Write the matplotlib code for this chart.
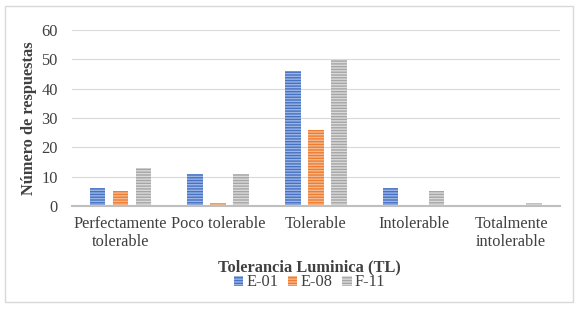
import matplotlib.pyplot as plt
from matplotlib.patches import Rectangle
import numpy as np

plt.rcParams['font.family'] = ['Liberation Serif', 'DejaVu Serif']
plt.rcParams['hatch.linewidth'] = 1.0

categories = ["Perfectamente\ntolerable", "Poco tolerable", "Tolerable",
              "Intolerable", "Totalmente\nintolerable"]
series = ["E-01", "E-08", "F-11"]
e01 = [6, 11, 46, 6, 0]
e08 = [5, 1, 26, 0, 0]
f11 = [13, 11, 50, 5, 1]

colors = ["#4472C4", "#ED7D31", "#A5A5A5"]
stripes = ["#9DB5E3", "#F6B98F", "#DADADA"]

fig = plt.figure(figsize=(5.79, 3.09), dpi=100)
ax = fig.add_axes([0.124, 0.333, 0.843, 0.57])

x = np.arange(len(categories))
w = 0.16
step = 0.235
for i, (vals, c, s, name) in enumerate(zip([e01, e08, f11], colors, stripes, series)):
    ax.bar(x + (i - 1) * step, vals, w, color=c, edgecolor=s, hatch='------',
           linewidth=0, label=name)

ax.set_xlim(-0.5, len(categories) - 0.5)
ax.set_ylim(0, 60)
ax.set_yticks(range(0, 61, 10))
ax.set_xticks(x)
ax.set_xticklabels(categories, fontsize=11.8, color="#404040", linespacing=1.15)
ax.tick_params(axis='y', labelsize=11.8, labelcolor="#404040", length=0, pad=10)
ax.tick_params(axis='x', length=0, pad=7)
ax.grid(axis='y', color="#D9D9D9", linewidth=0.8)
ax.set_axisbelow(True)
for sp in ['top', 'right', 'left']:
    ax.spines[sp].set_visible(False)
ax.spines['bottom'].set_color("#BFBFBF")
ax.spines['bottom'].set_linewidth(1.5)

ax.set_ylabel("Número de respuestas", fontsize=11.8, fontweight='bold',
              color="#404040", labelpad=3)
fig.text(0.535, 0.136, "Tolerancia Luminica (TL)", fontsize=11.8,
         fontweight='bold', color="#404040", ha='center', va='center')
fig.legend(loc='center', bbox_to_anchor=(0.535, 0.086), ncol=3, frameon=False,
           fontsize=11.8, handlelength=0.55, handleheight=0.55, handletextpad=0.2,
           columnspacing=0.6, labelcolor="#404040")

fig.patches.append(Rectangle((0.009, 0.022), 0.981, 0.96, transform=fig.transFigure,
                             fill=False, edgecolor="#D9D9D9", linewidth=1))

fig.savefig("out.png", dpi=100)
